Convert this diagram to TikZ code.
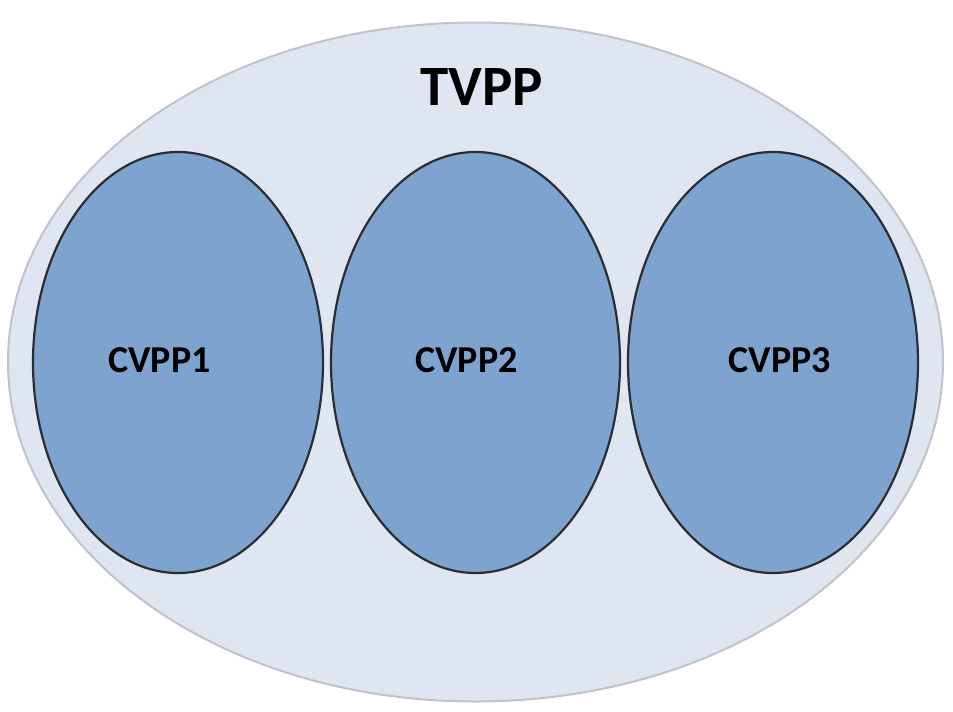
\documentclass[tikz,border=0pt]{standalone}
\usepackage{fontspec}
\setmainfont{Carlito}
\definecolor{outerfill}{HTML}{DFE6F2}
\definecolor{outerdraw}{HTML}{C0C4CA}
\definecolor{innerfill}{HTML}{7EA3CF}
\definecolor{innerdraw}{HTML}{2A2E33}
\begin{document}
\begin{tikzpicture}[x=1pt,y=-1pt,
  outerset/.style={fill=outerfill,draw=outerdraw,line width=2pt},
  innerset/.style={fill=innerfill,draw=innerdraw,line width=2.2pt},
  setlabel/.style={font=\bfseries\fontsize{38}{40}\selectfont,text=black},
  biglabel/.style={font=\bfseries\fontsize{57}{60}\selectfont,text=black}]
\useasboundingbox (0,0) rectangle (953,712);
\draw[outerset] (475.5,362) ellipse [x radius=467.5, y radius=339.5];
\draw[innerset] (178,362.5) ellipse [x radius=145, y radius=210.5];
\draw[innerset] (475.5,362.5) ellipse [x radius=144.5, y radius=210.5];
\draw[innerset] (773,362.5) ellipse [x radius=145, y radius=210.5];
\node[biglabel] (tvpp) at (482,87) {TVPP};
\node[setlabel] (c1) at (159.5,360) {CVPP1};
\node[setlabel] (c2) at (466.5,360) {CVPP2};
\node[setlabel] (c3) at (780,360) {CVPP3};
\end{tikzpicture}
\end{document}
